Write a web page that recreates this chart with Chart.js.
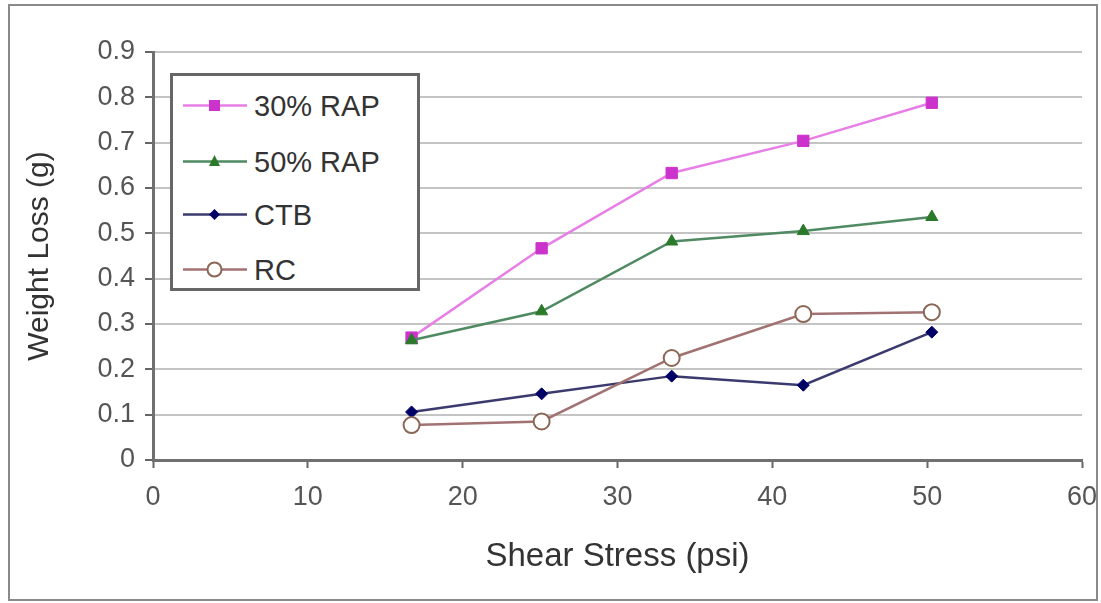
<!DOCTYPE html>
<html>
<head>
<meta charset="utf-8">
<script src="https://cdn.jsdelivr.net/npm/chart.js@4.4.1/dist/chart.umd.min.js"></script>
<style>
  body { margin: 0; background: #fff; }
  #wrap { position: relative; width: 1101px; height: 603px; }
  #legend {
    position: absolute; left: 170px; top: 73px; width: 244px; height: 212px;
    border: 3px solid #666; background: #fff;
    font-family: "Liberation Sans", Arial, sans-serif; font-size: 29px; color: #333;
  }
  .row { position: absolute; left: 10px; height: 40px; display: flex; align-items: center; white-space: nowrap; }
  .row svg { margin-right: 7px; }
</style>
</head>
<body>
<div id="wrap">
  <canvas id="myChart" width="1101" height="603"></canvas>
  <div id="legend"></div>
</div>
<script>
const shearStress = [16.7, 25.1, 33.5, 42.0, 50.3];
const seriesNames = ['30% RAP', '50% RAP', 'CTB', 'RC'];
const rap30 = [0.27, 0.467, 0.633, 0.704, 0.788];
const rap50 = [0.264, 0.328, 0.482, 0.505, 0.536];
const ctb = [0.106, 0.146, 0.185, 0.165, 0.282];
const rc = [0.077, 0.085, 0.225, 0.322, 0.326];
const xTicks = [0, 10, 20, 30, 40, 50, 60];
const yTicks = [0, 0.1, 0.2, 0.3, 0.4, 0.5, 0.6, 0.7, 0.8, 0.9];

const font = '"Liberation Sans", Arial, sans-serif';

function pts(ys) {
    return ys.map(function (y, i) { return { x: shearStress[i], y: y }; });
}

const styles = [
    { line: '#e77fe7', fill: '#cc33cc', border: '#cc33cc', shape: 'rect', r: 8 },
    { line: '#4f8a62', fill: '#2a7a2a', border: '#2a7a2a', shape: 'triangle', r: 7 },
    { line: '#3a3a6e', fill: '#000066', border: '#000066', shape: 'rectRot', r: 6 },
    { line: '#a27272', fill: '#ffffff', border: '#8a6655', shape: 'circle', r: 8 }
];
const values = [rap30, rap50, ctb, rc];

var datasets = seriesNames.map(function (name, i) {
    var s = styles[i];
    return {
        label: name,
        data: pts(values[i]),
        showLine: true,
        borderColor: s.line,
        borderWidth: 2.5,
        pointStyle: s.shape,
        pointRadius: s.r,
        pointBackgroundColor: s.fill,
        pointBorderColor: s.border,
        pointBorderWidth: i === 3 ? 2 : 1
    };
}).reverse();

const frame = {
    id: 'frame',
    afterDraw: function (chart) {
        var c = chart.ctx;
        c.save();
        c.strokeStyle = '#8a8a8a';
        c.lineWidth = 2;
        c.strokeRect(9, 5, 1088, 595);
        c.restore();
    }
};

const ctx = document.getElementById('myChart').getContext('2d');
const myChart = new Chart(ctx, {
    type: 'scatter',
    data: { datasets: datasets },
    options: {
        responsive: false,
        animation: false,
        devicePixelRatio: 1,
        layout: { padding: { top: 52, right: 19, left: 0, bottom: 0 } },
        plugins: { legend: { display: false }, tooltip: { enabled: false } },
        scales: {
            x: {
                type: 'linear', min: 0, max: 60,
                afterFit: function (s) { s.height = 143; s.paddingLeft = 0; s.paddingRight = 0; },
                afterBuildTicks: function (s) { s.ticks = xTicks.map(function (v) { return { value: v }; }); },
                grid: { drawOnChartArea: false, drawTicks: true, tickLength: 8, tickColor: '#666', tickWidth: 2 },
                border: { color: '#707070', width: 3 },
                ticks: { color: '#555', padding: 13, font: { family: font, size: 27 } },
                title: { display: true, text: 'Shear Stress (psi)', color: '#333',
                         font: { family: font, size: 33 }, padding: { top: 0, bottom: 26 } }
            },
            y: {
                type: 'linear', min: 0, max: 0.9,
                afterFit: function (s) { s.width = 153; s.paddingTop = 0; s.paddingBottom = 0; },
                afterBuildTicks: function (s) { s.ticks = yTicks.map(function (v) { return { value: v }; }); },
                grid: { color: '#c4c4c4', lineWidth: 2, tickLength: 8, tickColor: '#666', tickWidth: 2 },
                border: { color: '#707070', width: 3 },
                ticks: { color: '#555', padding: 10, font: { family: font, size: 27 } },
                title: { display: true, text: 'Weight Loss (g)', color: '#333',
                         font: { family: font, size: 30 }, padding: { top: 22, bottom: 0 } }
            }
        }
    },
    plugins: [frame]
});

// legend box drawn as html, built from the same series
var legend = document.getElementById('legend');
var rowTops = [10, 66, 119, 174];
seriesNames.forEach(function (name, i) {
    var s = styles[i];
    var mark = '';
    if (s.shape === 'rect') mark = '<rect x="26" y="14" width="11" height="11" fill="' + s.fill + '"/>';
    if (s.shape === 'triangle') mark = '<polygon points="31.5,13 37,24 26,24" fill="' + s.fill + '"/>';
    if (s.shape === 'rectRot') mark = '<polygon points="31.5,14 37,19.5 31.5,25 26,19.5" fill="' + s.fill + '"/>';
    if (s.shape === 'circle') mark = '<circle cx="31.5" cy="19.5" r="7" fill="#fff" stroke="' + s.border + '" stroke-width="2"/>';
    var row = document.createElement('div');
    row.className = 'row';
    row.style.top = rowTops[i] + 'px';
    row.innerHTML = '<svg width="64" height="40"><line x1="0" y1="19.5" x2="64" y2="19.5" stroke="' + s.line +
        '" stroke-width="2.5"/>' + mark + '</svg><span>' + name + '</span>';
    legend.appendChild(row);
});
</script>
</body>
</html>
